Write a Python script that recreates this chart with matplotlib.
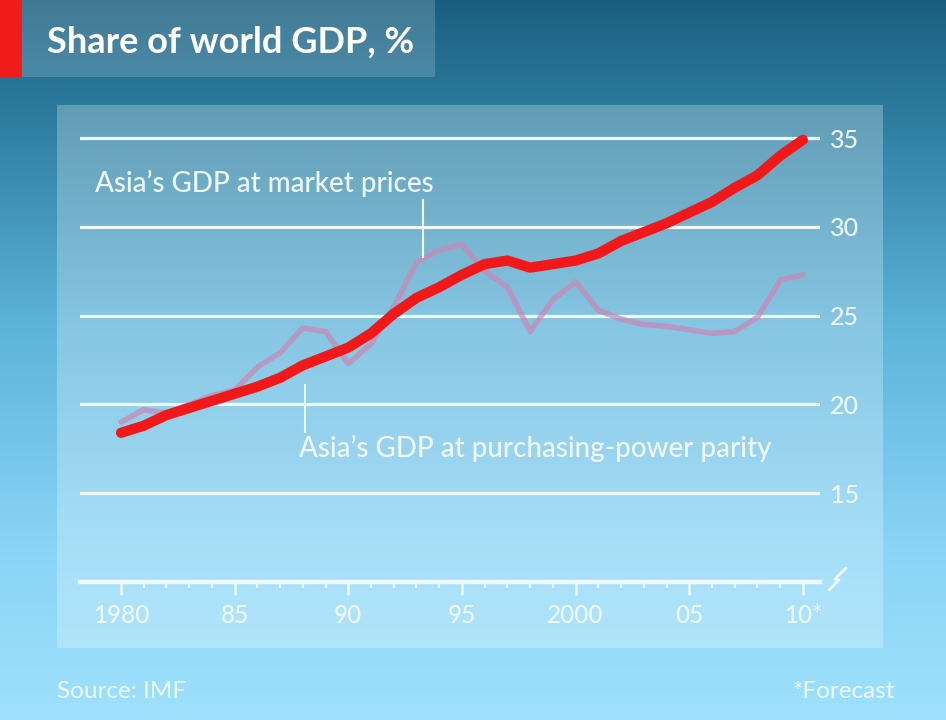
import matplotlib
matplotlib.use("Agg")
import matplotlib.pyplot as plt
from matplotlib.colors import LinearSegmentedColormap
from matplotlib.patches import Rectangle
import numpy as np

# ---------------- data ----------------
years = list(range(1980, 2011))
ppp_share = [18.4, 18.8, 19.4, 19.8, 20.2, 20.6, 21.0, 21.5, 22.2, 22.7, 23.2,
             24.0, 25.1, 26.0, 26.6, 27.3, 27.9, 28.1, 27.7, 27.9, 28.1,
             28.5, 29.2, 29.7, 30.2, 30.8, 31.4, 32.2, 32.9, 34.0, 34.9]
market_share = [19.0, 19.7, 19.5, 20.0, 20.5, 20.8, 22.1, 22.9, 24.3, 24.1, 22.3,
                23.4, 25.5, 28.0, 28.7, 29.0, 27.5, 26.6, 24.1, 25.9, 26.9,
                25.3, 24.8, 24.5, 24.4, 24.2, 24.0, 24.1, 24.9, 27.0, 27.3]
xtick_years = [1980, 1985, 1990, 1995, 2000, 2005, 2010]
xtick_labels = ["1980", "85", "90", "95", "2000", "05", "10*"]
ytick_values = [15, 20, 25, 30, 35]
title = "Share of world GDP, %"
label_market = "Asia’s GDP at market prices"
label_ppp = "Asia’s GDP at purchasing-power parity"
source = "Source: IMF"
footnote = "*Forecast"

FONT = ["Lato", "DejaVu Sans"]
W, H = 946, 720
TXT = "#eef9ff"

fig = plt.figure(figsize=(W / 100, H / 100), dpi=100)

# ---------------- background (pixel coordinates) ----------------
bg = fig.add_axes([0, 0, 1, 1])
bg.set_xlim(0, W)
bg.set_ylim(H, 0)
bg.axis("off")
cmap = LinearSegmentedColormap.from_list(
    "bg", [(0.0, "#1b5f80"), (0.15, "#2c7b9d"), (0.45, "#5cb3d9"),
           (0.75, "#88d3f5"), (1.0, "#9fe1fd")])
grad = np.linspace(0, 1, 256).reshape(-1, 1)
bg.imshow(grad, cmap=cmap, aspect="auto", extent=(0, W, H, 0), zorder=0)
# chart panel
bg.add_patch(Rectangle((57, 105), 826, 543, facecolor="white", alpha=0.26,
                       edgecolor="none", zorder=1))
# title box and red tab
bg.add_patch(Rectangle((0, 0), 435, 77, facecolor="white", alpha=0.17,
                       edgecolor="none", zorder=1))
bg.add_patch(Rectangle((0, 0), 22, 77, facecolor="#f01c1c",
                       edgecolor="none", zorder=2))
bg.text(47, 42, title, color="white", fontsize=26, fontweight="bold",
        family=FONT, va="center", ha="left", zorder=3)
bg.text(57, 691, source, color=TXT, fontsize=17.5, family=FONT,
        va="center", ha="left", zorder=3)
bg.text(895, 691, footnote, color=TXT, fontsize=17.5, family=FONT,
        va="center", ha="right", zorder=3)
# axis break symbol
bg.plot([829, 839, 835, 846], [590, 580, 579, 568], color=TXT, lw=2,
        solid_capstyle="round", zorder=3)

# ---------------- data axes ----------------
px_per_year = 22.73
px_per_unit = 17.76
ax_l, ax_r = 80, 820
ax_t, ax_b = 128, 582
x0 = 1980 - (121 - ax_l) / px_per_year
x1 = 1980 + (ax_r - 121) / px_per_year
y0 = 10
y1 = 10 + (ax_b - ax_t) / px_per_unit
ax = fig.add_axes([ax_l / W, 1 - ax_b / H, (ax_r - ax_l) / W, (ax_b - ax_t) / H])
ax.set_xlim(x0, x1)
ax.set_ylim(y0, y1)
ax.patch.set_alpha(0)
for s in ["top", "left", "right"]:
    ax.spines[s].set_visible(False)
ax.spines["bottom"].set_color(TXT)
ax.spines["bottom"].set_linewidth(3.2)

for v in ytick_values:
    ax.axhline(v, color=TXT, lw=2.3, zorder=1)

ax.plot(years, market_share, color="#c888b8", alpha=0.72, lw=4.0,
        solid_joinstyle="round", solid_capstyle="round", zorder=2)
ax.plot(years, ppp_share, color="#f01818", lw=7.4, solid_capstyle="round",
        solid_joinstyle="round", zorder=3)

ax.set_xticks(xtick_years)
ax.set_xticklabels(xtick_labels)
ax.set_xticks(years, minor=True)
ax.tick_params(axis="x", which="major", length=9, width=1.8, color=TXT,
               labelcolor=TXT, labelsize=17.5, pad=7, direction="out")
ax.tick_params(axis="x", which="minor", length=4.5, width=1.6, color=TXT,
               direction="out")
for t in ax.get_xticklabels():
    t.set_family(FONT)
    t.set_fontweight("medium")

ax.yaxis.tick_right()
ax.set_yticks(ytick_values)
ax.set_yticklabels([str(v) for v in ytick_values])
ax.tick_params(axis="y", length=0, labelcolor=TXT, labelsize=18, pad=7)
for t in ax.get_yticklabels():
    t.set_family(FONT)
    t.set_fontweight("medium")

# leader lines and labels
ax.plot([1993.3, 1993.3], [31.5, 28.3], color=TXT, lw=1.5, zorder=4)
ax.plot([1988.1, 1988.1], [21.1, 18.45], color=TXT, lw=1.5, zorder=4)
ax.text(1978.85, 32.45, label_market, color=TXT, fontsize=20, family=FONT,
        fontweight="medium", va="center", ha="left", zorder=5)
ax.text(1987.85, 17.55, label_ppp, color=TXT, fontsize=20, family=FONT,
        fontweight="medium", va="center", ha="left", zorder=5)

fig.savefig("out.png", dpi=100)
